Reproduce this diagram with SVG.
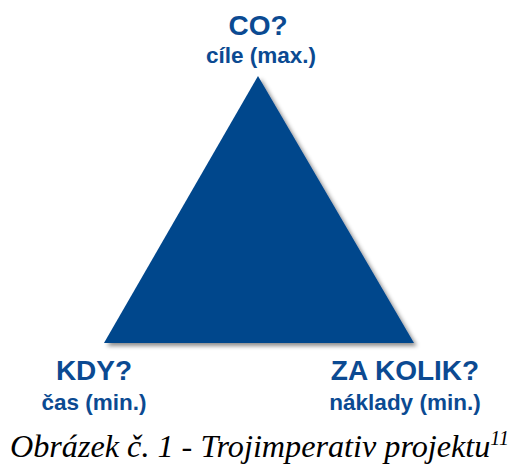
<svg xmlns="http://www.w3.org/2000/svg" width="512" height="465" viewBox="0 0 512 465">
<style>
.h{font-family:"Liberation Sans",Arial,sans-serif;font-weight:bold;fill:#0b4a92;text-anchor:middle}
.t{font-size:28px}
.s{font-size:22.5px}
.cap{font-family:"Liberation Serif","Times New Roman",serif;font-style:italic;fill:#000}
</style>
<defs>
<filter id="sh" x="-10%" y="-10%" width="130%" height="130%">
<feDropShadow dx="3" dy="3" stdDeviation="2" flood-color="#000" flood-opacity="0.45"/>
</filter>
</defs>
<g id="triangle">
<polygon points="258,76 104,343 414,343" fill="#02468c" filter="url(#sh)"/>
</g>
<g id="top">
<text class="h t" x="258" y="35">CO?</text>
<text class="h s" x="261" y="63">cíle (max.)</text>
</g>
<g id="left">
<text class="h t" x="94" y="380">KDY?</text>
<text class="h s" x="94" y="410">čas (min.)</text>
</g>
<g id="right">
<text class="h t" x="405" y="380">ZA KOLIK?</text>
<text class="h s" x="405" y="410">náklady (min.)</text>
</g>
<g id="connectors"/>
<text class="cap" x="10" y="457" font-size="32.2">Obrázek č. 1 - Trojimperativ projektu<tspan font-size="20" dy="-12">11</tspan></text>
</svg>
